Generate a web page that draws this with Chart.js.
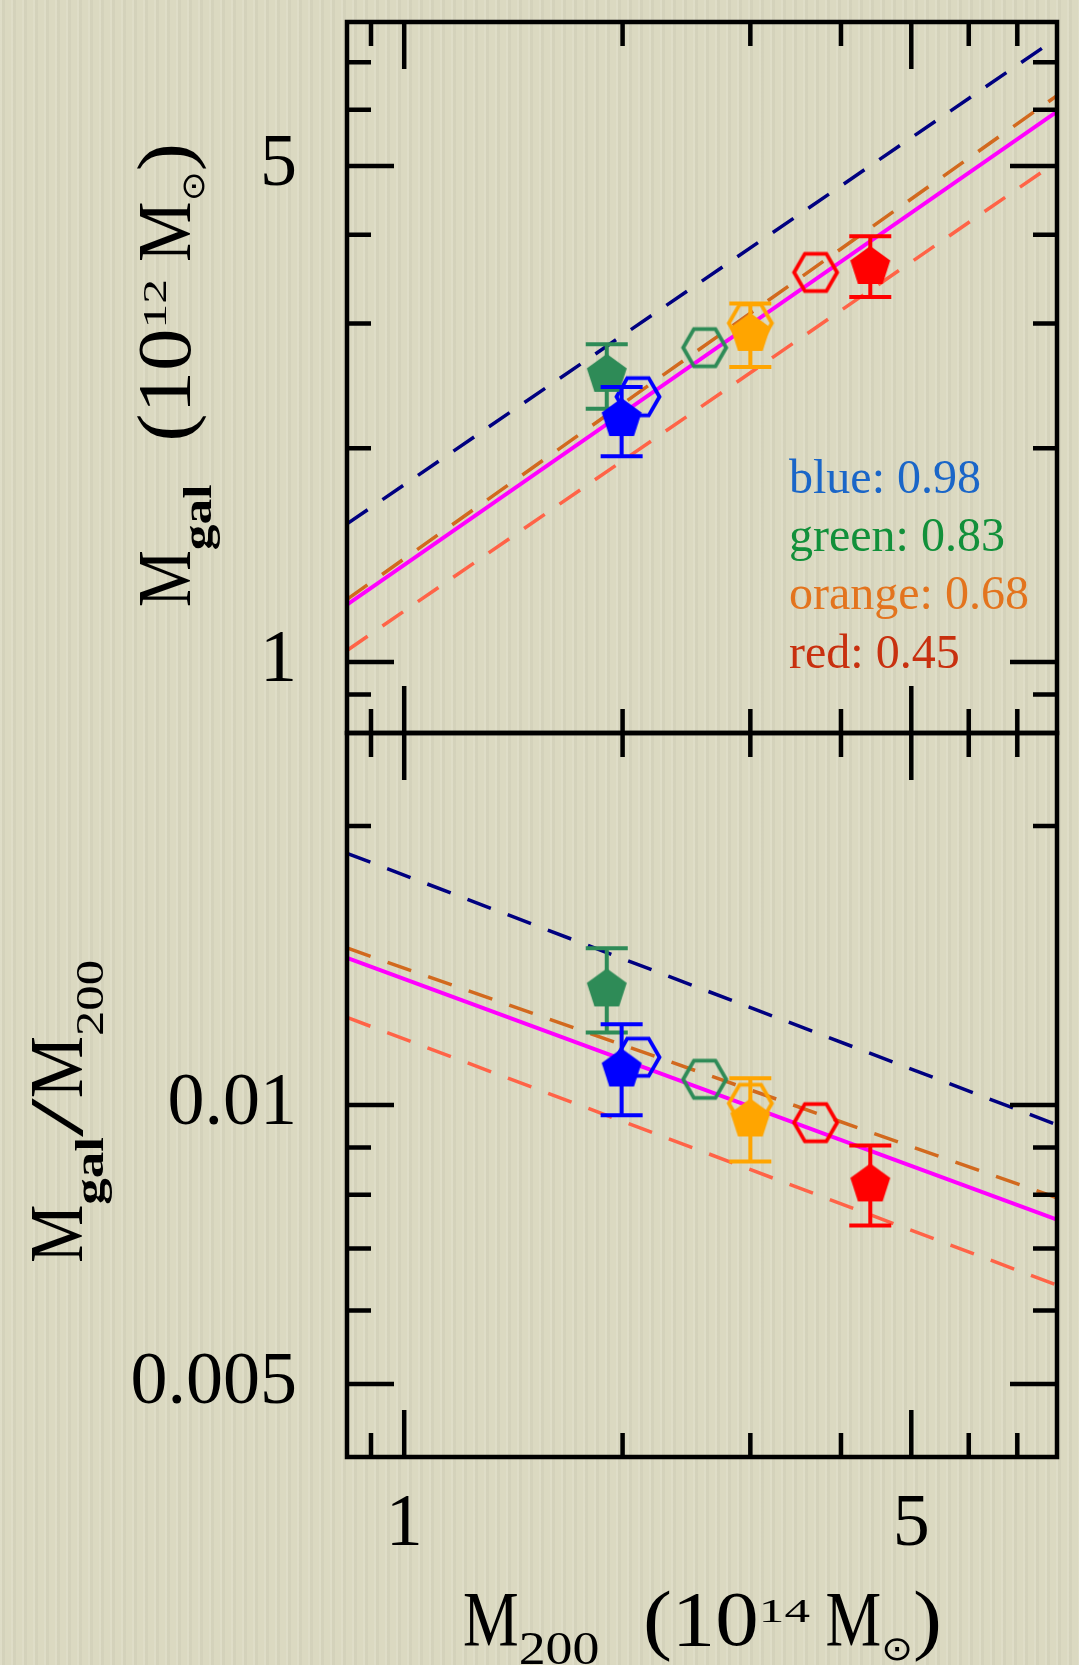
<!DOCTYPE html>
<html>
<head>
<meta charset="utf-8">
<script src="https://cdn.jsdelivr.net/npm/chart.js@4.4.1/dist/chart.umd.min.js"></script>
<style>
html, body { margin: 0; padding: 0; }
body {
    width: 1079px; height: 1665px; position: relative; overflow: hidden;
    background-color: #dbd9c1;
    background-image: repeating-linear-gradient(90deg,
        rgba(255,255,255,0.10) 0px, rgba(255,255,255,0.10) 2px,
        rgba(0,0,0,0.03) 2px, rgba(0,0,0,0.03) 5px,
        rgba(255,255,255,0) 5px, rgba(255,255,255,0) 11px);
}
canvas { position: absolute; left: 0; top: 0; }
</style>
</head>
<body>
<canvas id="bottomChart" width="1079" height="1665"></canvas>
<canvas id="topChart" width="1079" height="1665"></canvas>
<script>
// axis ranges and ticks (M200 in 1e14 Msun)
const xRange = [0.834, 7.94];
const topRange = [0.794, 7.98];
const bottomRange = [0.00417, 0.0252];

const xTicks = [0.9, 1, 2, 3, 4, 5, 6, 7];
const xMajor = [1, 5];
const xTickLabels = { 1: '1', 5: '5' };

const topTicks = [0.9, 1, 2, 3, 4, 5, 6, 7];
const topMajor = [1, 5];
const topTickLabels = { 1: '1', 5: '5' };

const bottomTicks = [0.005, 0.006, 0.007, 0.008, 0.009, 0.01, 0.02];
const bottomMajor = [0.005, 0.01];
const bottomTickLabels = { 0.005: '0.005', 0.01: '0.01' };

// filled pentagons with error bars: green, blue, orange, red
const pentNames = ['green', 'blue', 'orange', 'red'];
const pentX = [1.902, 1.994, 3.000, 4.390];
const pentTop = [2.547, 2.207, 2.909, 3.615];
const pentTopHi = [2.803, 2.441, 3.201, 3.981];
const pentTopLo = [2.274, 1.949, 2.605, 3.269];
const pentBottom = [0.01336, 0.01095, 0.00967, 0.00823];
const pentBottomHi = [0.01476, 0.01222, 0.01069, 0.00904];
const pentBottomLo = [0.01197, 0.00975, 0.00869, 0.00741];

// open hexagons: green, blue, orange, red
const hexX = [2.595, 2.10, 3.00, 3.69];
const hexTop = [2.773, 2.365, 3.003, 3.540];
const hexBottom = [0.01066, 0.01126, 0.01004, 0.00957];

// fit lines (end points): navy, chocolate, tomato (dashed), magenta (solid)
const fitTopX = [[0.834, 7.575], [0.834, 7.94], [0.834, 7.575], [0.834, 7.94]];
const fitTopY = [[1.565, 7.33], [1.225, 6.285], [1.038, 4.906], [1.204, 5.965]];
const fitBottomX = [[0.834, 7.94], [0.834, 7.94], [0.834, 7.94], [0.834, 7.94]];
const fitBottomY = [[0.01869, 0.00952], [0.01477, 0.00794], [0.01243, 0.00639], [0.01441, 0.00752]];

const legendText = ['blue: 0.98', 'green: 0.83', 'orange: 0.68', 'red: 0.45'];

// styles
const markerColors = ['#2e8b57', '#0000ff', '#ffa500', '#ff0000'];
const lineColors = ['#000080', '#d2691e', '#ff6347', '#ff00ff'];
const lineDash = [[25, 18], [25, 18], [25, 18], []];
const lineWidths = [3.5, 3.5, 3.5, 4];
const legendColors = ['#1a66c8', '#12903a', '#e3741e', '#c8300f'];

Chart.defaults.font.family = "'Liberation Serif', 'DejaVu Serif', serif";
Chart.defaults.color = '#000';
Chart.defaults.animation = false;

function makePentagon(color) {
    const c = document.createElement('canvas');
    c.width = 48; c.height = 48;
    const g = c.getContext('2d');
    const R = 21;
    g.beginPath();
    for (let k = 0; k < 5; k++) {
        const a = -Math.PI / 2 + k * 2 * Math.PI / 5;
        const px = 24 + R * Math.cos(a), py = 25 + R * Math.sin(a);
        if (k) g.lineTo(px, py); else g.moveTo(px, py);
    }
    g.closePath();
    g.fillStyle = color;
    g.fill();
    return c;
}

function makeHexagon(color) {
    const c = document.createElement('canvas');
    c.width = 52; c.height = 52;
    const g = c.getContext('2d');
    const R = 21.5;
    g.beginPath();
    for (let k = 0; k < 6; k++) {
        const a = k * Math.PI / 3;
        const px = 26 + R * Math.cos(a), py = 26 + R * Math.sin(a);
        if (k) g.lineTo(px, py); else g.moveTo(px, py);
    }
    g.closePath();
    g.lineWidth = 3.8;
    g.strokeStyle = color;
    g.stroke();
    return c;
}

const pentImgs = markerColors.map(makePentagon);
const hexImgs = markerColors.map(makeHexagon);

// rich text along a baseline, optionally rotated, stretched to a given length
function drawRich(ctx, parts, x, y, length, vertical) {
    ctx.save();
    ctx.translate(x, y);
    if (vertical) ctx.rotate(-Math.PI / 2);
    let w = 0;
    parts.forEach(p => { ctx.font = p.font; w += ctx.measureText(p.text).width * (p.sx || 1); });
    ctx.scale(length / w, 1);
    ctx.fillStyle = '#000';
    ctx.textBaseline = 'alphabetic';
    ctx.textAlign = 'left';
    let cx = 0;
    parts.forEach(p => {
        ctx.font = p.font;
        const sx = p.sx || 1;
        ctx.save();
        ctx.translate(cx, p.dy || 0);
        ctx.scale(sx, 1);
        ctx.fillText(p.text, 0, 0);
        ctx.restore();
        cx += ctx.measureText(p.text).width * sx;
    });
    ctx.restore();
}

function drawFrame(chart, yVals, yMajor) {
    const { ctx, chartArea: a, scales } = chart;
    ctx.save();
    ctx.strokeStyle = '#000';
    ctx.lineWidth = 4.5;
    ctx.beginPath();
    xTicks.forEach(v => {
        const px = scales.x.getPixelForValue(v);
        const len = xMajor.includes(v) ? 47 : 24;
        ctx.moveTo(px, a.bottom); ctx.lineTo(px, a.bottom - len);
        ctx.moveTo(px, a.top); ctx.lineTo(px, a.top + len);
    });
    yVals.forEach(v => {
        const py = scales.y.getPixelForValue(v);
        const len = yMajor.includes(v) ? 47 : 24;
        ctx.moveTo(a.left, py); ctx.lineTo(a.left + len, py);
        ctx.moveTo(a.right, py); ctx.lineTo(a.right - len, py);
    });
    ctx.stroke();
    ctx.strokeRect(a.left, a.top, a.right - a.left, a.bottom - a.top);
    ctx.restore();
}

const errorBarPlugin = {
    id: 'errorBars',
    beforeDatasetDraw(chart, args) {
        const ds = chart.data.datasets[args.index];
        if (!ds.errHi) return;
        const { ctx, scales } = chart;
        ctx.save();
        ctx.strokeStyle = ds.errColor;
        ctx.lineWidth = 4;
        ds.data.forEach((p, i) => {
            const px = scales.x.getPixelForValue(p.x);
            const hi = scales.y.getPixelForValue(ds.errHi[i]);
            const lo = scales.y.getPixelForValue(ds.errLo[i]);
            ctx.beginPath();
            ctx.moveTo(px, hi); ctx.lineTo(px, lo);
            ctx.moveTo(px - 21, hi); ctx.lineTo(px + 21, hi);
            ctx.moveTo(px - 21, lo); ctx.lineTo(px + 21, lo);
            ctx.stroke();
        });
        ctx.restore();
    }
};

function buildDatasets(fitX, fitY, pentY, pentHi, pentLo, hexY) {
    const sets = [];
    pentNames.forEach((name, i) => {
        sets.push({
            label: name,
            data: [{ x: pentX[i], y: pentY[i] }],
            pointStyle: pentImgs[i],
            pointRadius: 21,
            errHi: [pentHi[i]],
            errLo: [pentLo[i]],
            errColor: markerColors[i],
            order: 4 - i
        });
    });
    sets.push({
        label: 'hexagons',
        data: hexX.map((x, i) => ({ x, y: hexY[i] })),
        pointStyle: hexImgs,
        pointRadius: 21,
        order: 6
    });
    fitY.forEach((pair, i) => {
        sets.push({
            label: 'fit' + i,
            data: pair.map((y, j) => ({ x: fitX[i][j], y })),
            showLine: true,
            pointRadius: 0,
            borderColor: lineColors[i],
            borderWidth: lineWidths[i],
            borderDash: lineDash[i],
            order: 10 + i
        });
    });
    return sets;
}

// log axis with fixed tick list; size fixed so the plot box lands where wanted
function logAxis(range, ticks, labels, size, tickOpts) {
    return {
        type: 'logarithmic',
        min: range[0],
        max: range[1],
        bounds: 'data',
        grid: { display: false, drawTicks: false, tickLength: 0 },
        border: { display: false },
        afterBuildTicks: s => { s.ticks = ticks.map(v => ({ value: v })); },
        afterFit: s => {
            if (s.isHorizontal()) s.height = size; else s.width = size;
            s.paddingTop = 0; s.paddingBottom = 0;
            s.paddingLeft = 0; s.paddingRight = 0;
        },
        ticks: Object.assign({
            autoSkip: false,
            maxRotation: 0,
            font: { size: 74 },
            color: '#000',
            callback: v => labels[v] || ''
        }, tickOpts)
    };
}

const topDeco = {
    id: 'topDeco',
    afterDraw(chart) {
        drawFrame(chart, topTicks, topMajor);
        const ctx = chart.ctx;
        drawRich(ctx, [
            { text: 'M', font: "76px 'Liberation Serif'", sx: 0.75 },
            { text: 'gal', font: "bold 40px 'Liberation Serif'", dy: 21, sx: 1.15 },
            { text: '  (', font: "76px 'Liberation Serif'" },
            { text: '10', font: "76px 'Liberation Serif'" },
            { text: '12', font: "34px 'Liberation Serif'", dy: -24, sx: 1.3 },
            { text: ' M', font: "76px 'Liberation Serif'", sx: 0.8 },
            { text: '\u2299', font: "32px 'DejaVu Sans'", dy: 14 },
            { text: ')', font: "76px 'Liberation Serif'" }
        ], 190, 607, 464, true);

        ctx.save();
        ctx.font = "48px 'Liberation Serif'";
        ctx.textBaseline = 'alphabetic';
        const baseY = [493, 551, 609, 668];
        legendText.forEach((t, i) => {
            ctx.fillStyle = legendColors[i];
            ctx.fillText(t, 789, baseY[i]);
        });
        ctx.restore();
    }
};

const bottomDeco = {
    id: 'bottomDeco',
    afterDraw(chart) {
        drawFrame(chart, bottomTicks, bottomMajor);
        const ctx = chart.ctx;
        drawRich(ctx, [
            { text: 'M', font: "76px 'Liberation Serif'", sx: 0.75 },
            { text: 'gal', font: "bold 40px 'Liberation Serif'", dy: 21, sx: 1.15 },
            { text: '/', font: "76px 'Liberation Serif'", sx: 1.6 },
            { text: 'M', font: "76px 'Liberation Serif'", sx: 0.8 },
            { text: '200', font: "40px 'Liberation Serif'", dy: 21, sx: 1.1 }
        ], 82, 1263, 303, true);

        drawRich(ctx, [
            { text: 'M', font: "78px 'Liberation Serif'", sx: 0.72 },
            { text: '200', font: "46px 'Liberation Serif'", dy: 19, sx: 1.05 },
            { text: '  (', font: "78px 'Liberation Serif'" },
            { text: '10', font: "78px 'Liberation Serif'" },
            { text: '14', font: "34px 'Liberation Serif'", dy: -23, sx: 1.35 },
            { text: ' M', font: "78px 'Liberation Serif'", sx: 0.72 },
            { text: '\u2299', font: "34px 'DejaVu Sans'", dy: 15 },
            { text: ')', font: "78px 'Liberation Serif'" }
        ], 463, 1645, 479, false);
    }
};

new Chart(document.getElementById('topChart'), {
    type: 'scatter',
    data: { datasets: buildDatasets(fitTopX, fitTopY, pentTop, pentTopHi, pentTopLo, hexTop) },
    options: {
        responsive: false,
        devicePixelRatio: 1,
        layout: { padding: { left: 0, top: 9, right: 18, bottom: 932 } },
        plugins: { legend: { display: false }, tooltip: { enabled: false } },
        scales: {
            x: logAxis(xRange, xTicks, xTickLabels, 0, { display: false }),
            y: logAxis(topRange, topTicks, topTickLabels, 347, { padding: 50 })
        }
    },
    plugins: [errorBarPlugin, topDeco]
});

new Chart(document.getElementById('bottomChart'), {
    type: 'scatter',
    data: { datasets: buildDatasets(fitBottomX, fitBottomY, pentBottom, pentBottomHi, pentBottomLo, hexBottom) },
    options: {
        responsive: false,
        devicePixelRatio: 1,
        layout: { padding: { left: 0, top: 733, right: 18, bottom: 0 } },
        plugins: { legend: { display: false }, tooltip: { enabled: false } },
        scales: {
            x: logAxis(xRange, xTicks, xTickLabels, 208, { padding: 24 }),
            y: logAxis(bottomRange, bottomTicks, bottomTickLabels, 347, { padding: 50 })
        }
    },
    plugins: [errorBarPlugin, bottomDeco]
});
</script>
</body>
</html>
